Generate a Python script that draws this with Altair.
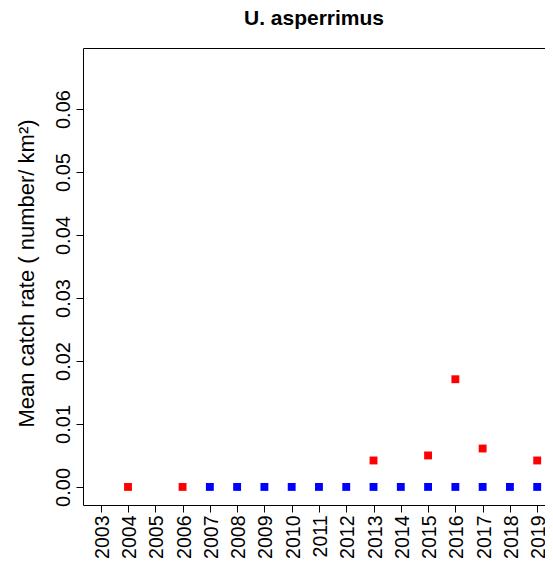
import altair as alt
import pandas as pd

# Data
red_years = [2004, 2006, 2013, 2015, 2016, 2017, 2019]
red_vals = [0.0, 0.0, 0.0042, 0.0050, 0.0171, 0.0061, 0.0042]
blue_years = [2007, 2008, 2009, 2010, 2011, 2012, 2013, 2014, 2015, 2016, 2017, 2018, 2019]
blue_vals = [0.0, 0.0, 0.0, 0.0, 0.0, 0.0, 0.0, 0.0, 0.0, 0.0, 0.0, 0.0, 0.0]
year_ticks = list(range(2003, 2020))
y_ticks = [0.0, 0.01, 0.02, 0.03, 0.04, 0.05, 0.06]

df = pd.DataFrame({
    "year": blue_years + red_years,
    "rate": blue_vals + red_vals,
    "series": ["blue"] * len(blue_years) + ["red"] * len(red_years),
})

FONT = "Liberation Sans"
xscale = alt.Scale(domain=[2002.35, 2019.286], nice=False, zero=False)
yscale = alt.Scale(domain=[-0.00287, 0.0697], nice=False, zero=False)

points = alt.Chart(df).mark_square(size=62, filled=True, opacity=1).encode(
    x=alt.X("year:Q", scale=xscale,
            axis=alt.Axis(values=year_ticks, format="d", title="", grid=False,
                          labelAngle=270, labelAlign="right", labelBaseline="alphabetic",
                          labelOffset=7.5, labelPadding=3, tickSize=7,
                          labelFontSize=19.5, labelFont=FONT, labelColor="black",
                          domainColor="black", tickColor="black", labelFlush=False,
                          labelOverlap=False)),
    y=alt.Y("rate:Q", scale=yscale,
            axis=alt.Axis(values=y_ticks, format=".2f", grid=False,
                          title="Mean catch rate ( number/ km²)",
                          titleFont=FONT, titleFontSize=22, titleFontWeight="normal",
                          titleColor="black", titleAngle=270, titleAlign="center",
                          titleBaseline="alphabetic", titleX=-50, titleY=225,
                          labelAngle=270, labelAlign="center", labelBaseline="alphabetic",
                          labelPadding=7, tickSize=7, labelFontSize=20, labelFont=FONT,
                          labelColor="black", domainColor="black", tickColor="black",
                          labelFlush=False, labelOverlap=False)),
    color=alt.Color("series:N",
                    scale=alt.Scale(domain=["blue", "red"], range=["#0000FF", "#FF0000"]),
                    legend=None),
)

top_border = alt.Chart(df).mark_point(opacity=0).encode(
    x=alt.X("year:Q", scale=xscale,
            axis=alt.Axis(orient="top", labels=False, ticks=False, title="", grid=False,
                          domain=True, domainColor="black")),
    y=alt.Y("rate:Q", scale=yscale),
)

chart = alt.layer(points, top_border).resolve_axis(x="independent").properties(
    width=462,
    height=457,
    title=alt.TitleParams("U. asperrimus", font=FONT, fontSize=21, fontWeight="bold",
                          anchor="middle", baseline="alphabetic", offset=2, color="black"),
    autosize=alt.AutoSizeParams(type="none"),
    padding={"left": 75, "top": 40, "right": 0, "bottom": 54},
).configure_view(stroke=None)

chart.save("out.html", embed_options={"renderer": "svg", "actions": False})
